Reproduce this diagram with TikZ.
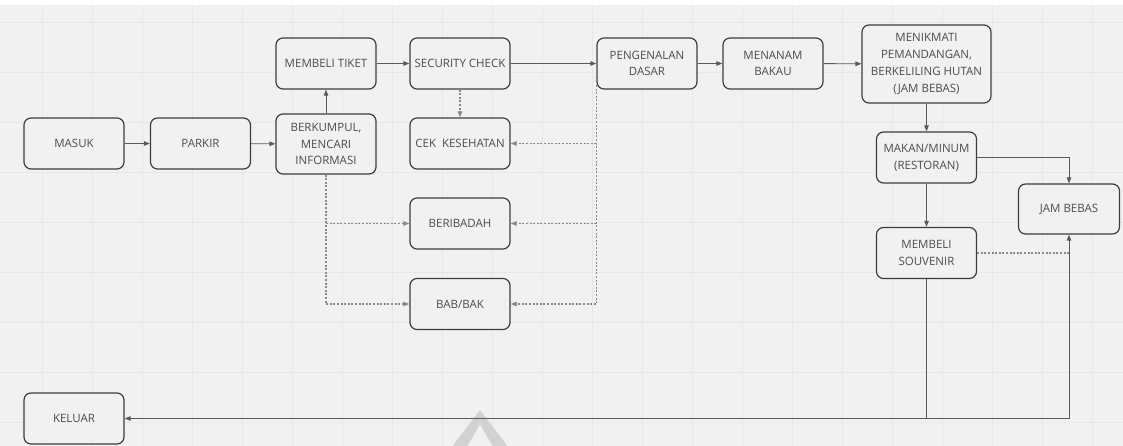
\documentclass[tikz,border=0pt]{standalone}
\usepackage{fontspec}
\setmainfont{Open Sans}
\usetikzlibrary{arrows.meta,calc}
\definecolor{bg}{HTML}{F1F1F1}
\definecolor{gridc}{HTML}{E7E7E7}
\definecolor{boxc}{HTML}{3E3E3E}
\definecolor{txt}{HTML}{4C4C4C}
\definecolor{linec}{HTML}{5A5A5A}
\definecolor{dotc}{HTML}{8A8A8A}
\definecolor{wmark}{HTML}{D2D2D2}
\tikzset{
  box/.style={draw=boxc, line width=1.2pt, rounded corners=7pt, fill=bg, text=txt,
    align=center, font=\fontsize{11.5}{16.7}\selectfont, minimum width=100pt,
    minimum height=51pt, inner sep=2pt},
  conn/.style={draw=linec, line width=0.9pt, -{Triangle[length=6pt,width=4.5pt]}},
  dotconn/.style={draw=dotc, line width=1.1pt, dash pattern=on 2pt off 1.6pt,
    -{Triangle[length=6pt,width=4.5pt]}},
  dotplain/.style={draw=dotc, line width=1.1pt, dash pattern=on 2pt off 1.6pt},
}
\begin{document}
\begin{tikzpicture}[x=1pt,y=-1pt]
\useasboundingbox (0,0) rectangle (1123,446);
\fill[bg] (0,0) rectangle (1123,446);
\fill[white] (0,0) rectangle (1123,5);
\foreach \gx in {42,92,...,1123} \draw[gridc,line width=0.8pt] (\gx,5) -- (\gx,446);
\foreach \gy in {22,72,...,446} \draw[gridc,line width=0.8pt] (0,\gy) -- (1123,\gy);
% watermark
\fill[wmark] (480,410) -- (512,452) -- (496,452) -- (480,424) -- (464,452) -- (448,452) -- cycle;

\node[box] (masuk) at (74,143.5) {MASUK};
\node[box] (parkir) at (200.5,143.5) {PARKIR};
\node[box, minimum height=60pt] (berkumpul) at (326,144) {BERKUMPUL,\\MENCARI\\INFORMASI};
\node[box] (tiket) at (326,63.5) {MEMBELI TIKET};
\node[box] (security) at (460,63.5) {SECURITY CHECK};
\node[box] (cek) at (460,143.5) {CEK\ \ KESEHATAN};
\node[box] (beribadah) at (460,223.5) {BERIBADAH};
\node[box] (bab) at (460,304) {BAB/BAK};
\node[box] (pengenalan) at (647,63.5) {PENGENALAN\\DASAR};
\node[box] (menanam) at (773,63.5) {MENANAM\\BAKAU};
\node[box, minimum width=129pt, minimum height=78pt] (menikmati) at (926.5,64) {MENIKMATI\\PEMANDANGAN,\\BERKELILING HUTAN\\(JAM BEBAS)};
\node[box] (makan) at (926.5,157.5) {MAKAN/MINUM\\(RESTORAN)};
\node[box, minimum width=101pt, minimum height=50pt] (jambebas) at (1069,209) {JAM BEBAS};
\node[box] (souvenir) at (926.5,253) {MEMBELI\\SOUVENIR};
\node[box] (keluar) at (74,418.5) {KELUAR};

% solid flow
\draw[conn] (masuk) -- (parkir);
\draw[conn] (parkir) -- (berkumpul);
\draw[conn] (berkumpul) -- (tiket);
\draw[conn] (tiket) -- (security);
\draw[conn] (security) -- (pengenalan);
\draw[conn] (pengenalan) -- (menanam);
\draw[conn] (menanam) -- (menikmati);
\draw[conn] (menikmati) -- (makan);
\draw[conn] (makan.east) -| (jambebas.north);
\draw[conn] (makan) -- (souvenir);
\coordinate (turn) at (souvenir.south |- keluar.east);
\draw[conn] (souvenir.south) -- (turn) -- (keluar.east);
\draw[conn] (turn) -| (jambebas.south);

% dotted
\draw[dotconn] (security) -- (cek);
\coordinate (lb) at (berkumpul.south |- beribadah.west);
\draw[dotconn] (berkumpul.south) |- (bab.west);
\draw[dotconn] (lb) -- (beribadah.west);
\coordinate (rc) at (pengenalan.west |- cek.east);
\coordinate (rb) at (pengenalan.west |- beribadah.east);
\draw[dotconn] (pengenalan.west) |- (bab.east);
\draw[dotconn] (rc) -- (cek.east);
\draw[dotconn] (rb) -- (beribadah.east);
\draw[dotplain] (souvenir.east) -- (souvenir.east -| jambebas.south);
\end{tikzpicture}
\end{document}
